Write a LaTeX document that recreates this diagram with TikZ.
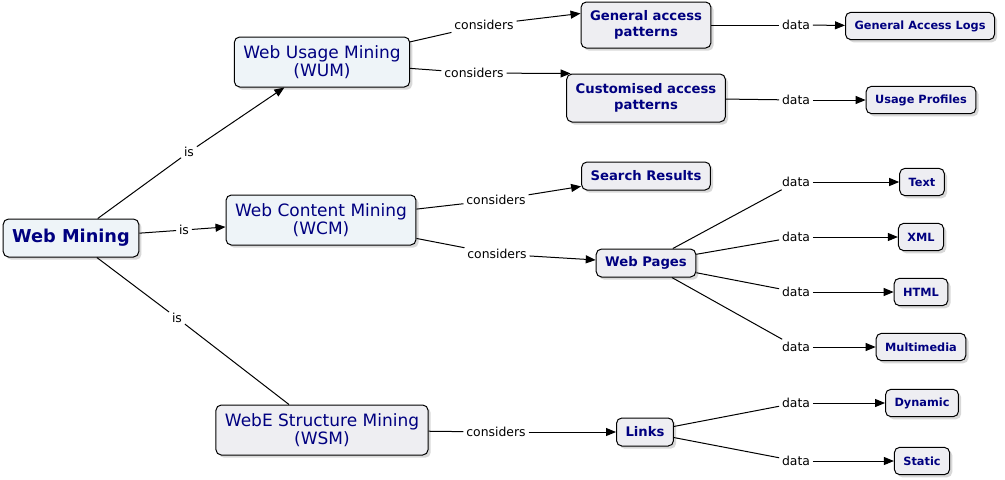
\documentclass[tikz,border=0pt]{standalone}
\usepackage{fontspec}
\setmainfont{DejaVu Sans}
\usepackage{tikz}
\usetikzlibrary{arrows.meta}
\usetikzlibrary{shadows}
\definecolor{conceptblue}{RGB}{0,0,128}
\definecolor{topfill}{RGB}{238,244,248}
\definecolor{boxfill}{RGB}{238,238,242}

\begin{document}
\begin{tikzpicture}[x=0.75pt,y=-0.75pt,
    concept/.style={draw,line width=0.75pt,rounded corners=4pt,fill=boxfill,text=conceptblue,align=center,
      inner xsep=6.75pt,inner ysep=0pt,drop shadow={shadow xshift=2pt,shadow yshift=-2pt,fill=black!30}},
    root/.style={concept,fill=topfill,font=\bfseries\fontsize{13.3}{16}\selectfont,minimum height=28.5pt},
    topic/.style={concept,fill=topfill,font=\fontsize{12.75}{13.5}\selectfont,minimum height=37.5pt},
    sub/.style={concept,font=\bfseries\fontsize{9.9}{12}\selectfont,minimum height=21pt},
    subtwo/.style={sub,minimum height=36pt},
    leaf/.style={concept,font=\bfseries\fontsize{8.5}{10}\selectfont,minimum height=20.5pt},
    link/.style={font=\fontsize{9.3}{11}\selectfont,inner sep=2pt},
    line/.style={line width=0.75pt},
    arr/.style={line width=0.75pt,-{Triangle[length=7.5pt,width=6pt]}}]
    \useasboundingbox (0,0) rectangle (1005,479);

    % concepts
    \node[root] (wm) at (71,238) {Web Mining};
    \node[topic] (wum) at (322,62) {Web Usage Mining\\(WUM)};
    \node[topic] (wcm) at (321,220) {Web Content Mining\\(WCM)};
    \node[topic,fill=boxfill] (wsm) at (322,430) {WebE Structure Mining\\(WSM)};
    \node[subtwo,minimum height=34.5pt] (gap) at (646,25) {General access\\patterns};
    \node[subtwo] (cap) at (646,98) {Customised access\\patterns};
    \node[sub] (sr) at (646,176) {Search Results};
    \node[sub] (wp) at (646,263) {Web Pages};
    \node[sub] (lk) at (645,432) {Links};
    \node[leaf] (gal) at (920,26) {General Access Logs};
    \node[leaf] (up) at (921,100) {Usage Profiles};
    \node[leaf] (txt) at (922,182) {Text};
    \node[leaf] (xml) at (921,237) {XML};
    \node[leaf] (html) at (921,292) {HTML};
    \node[leaf] (mm) at (921,347) {Multimedia};
    \node[leaf] (dyn) at (922,403) {Dynamic};
    \node[leaf] (st) at (922,461) {Static};

    % linking phrases
    \node[link] (is1) at (189,152) {is};
    \node[link] (is2) at (184,230) {is};
    \node[link] (is3) at (177,318) {is};
    \node[link] (c1) at (484,25) {considers};
    \node[link] (c2) at (474,73) {considers};
    \node[link] (c3) at (496,200) {considers};
    \node[link] (c4) at (497,254) {considers};
    \node[link] (c5) at (496,432) {considers};
    \node[link] (d1) at (796,25) {data};
    \node[link] (d2) at (796,100) {data};
    \node[link] (d3) at (796,182) {data};
    \node[link] (d4) at (796,237) {data};
    \node[link] (d5) at (796,292) {data};
    \node[link] (d6) at (796,347) {data};
    \node[link] (d7) at (796,403) {data};
    \node[link] (d8) at (796,461) {data};

    % connections
    \draw[line] (wm) -- (is1);
    \draw[arr] (is1) -- (wum);
    \draw[line] (wm) -- (is2);
    \draw[arr] (is2) -- (wcm);
    \draw[line] (wm) -- (is3);
    \draw[line] (is3) -- (wsm);
    \draw[line] (wum) -- (c1);
    \draw[arr] (c1) -- (gap.170);
    \draw[line] (wum) -- (c2);
    \draw[arr] (c2) -- (cap.162);
    \draw[line] (wcm) -- (c3);
    \draw[arr] (c3) -- (sr);
    \draw[line] (wcm) -- (c4);
    \draw[arr] (c4) -- (wp);
    \draw[line] (wsm) -- (c5);
    \draw[arr] (c5) -- (lk);
    \draw[line] (gap) -- (d1);
    \draw[arr] (d1) -- (gal);
    \draw[line] (cap) -- (d2);
    \draw[arr] (d2) -- (up);
    \draw[line] (wp) -- (d3);
    \draw[arr] (d3) -- (txt);
    \draw[line] (wp) -- (d4);
    \draw[arr] (d4) -- (xml);
    \draw[line] (wp) -- (d5);
    \draw[arr] (d5) -- (html);
    \draw[line] (wp) -- (d6);
    \draw[arr] (d6) -- (mm);
    \draw[line] (lk) -- (d7);
    \draw[arr] (d7) -- (dyn);
    \draw[line] (lk) -- (d8);
    \draw[arr] (d8) -- (st);
\end{tikzpicture}
\end{document}
